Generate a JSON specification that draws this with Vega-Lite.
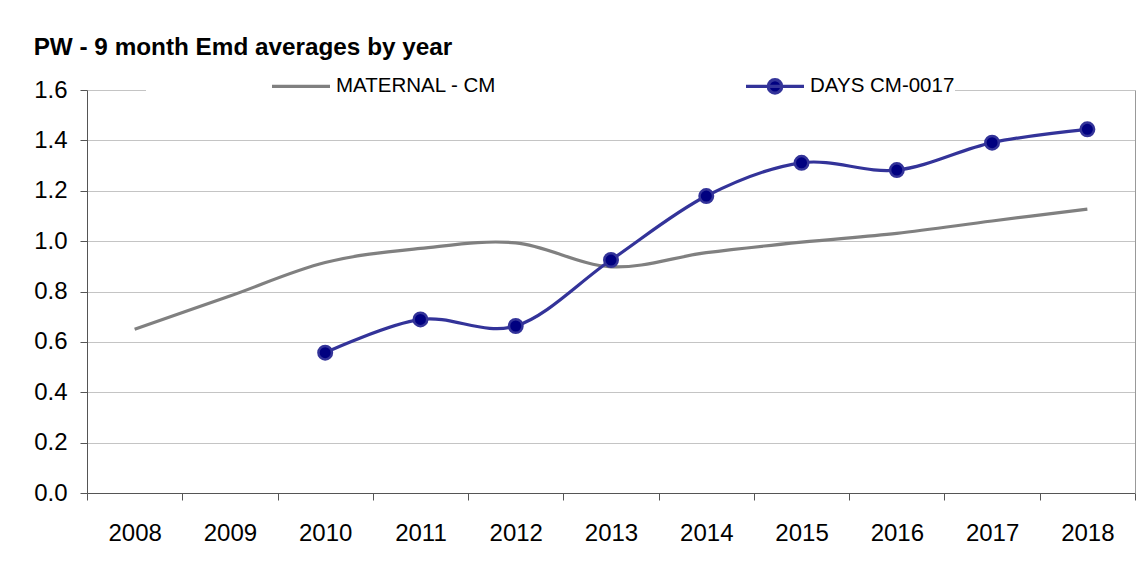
{
  "$schema": "https://vega.github.io/schema/vega-lite/v6.json",
  "width": 1048,
  "height": 403,
  "autosize": {"type": "none"},
  "padding": {"left": 87, "top": 90, "right": 4, "bottom": 92},
  "background": "white",
  "title": {
    "text": "PW - 9 month Emd averages by year",
    "anchor": "start",
    "fontSize": 24.3,
    "fontWeight": "bold",
    "color": "#000000",
    "font": "Liberation Sans",
    "dy": 9
  },
  "data": {
    "values": [
      {"year": "2008", "series": "MATERNAL - CM", "value": 0.65},
      {"year": "2009", "series": "MATERNAL - CM", "value": 0.782},
      {"year": "2010", "series": "MATERNAL - CM", "value": 0.915},
      {"year": "2011", "series": "MATERNAL - CM", "value": 0.971},
      {"year": "2012", "series": "MATERNAL - CM", "value": 0.993},
      {"year": "2013", "series": "MATERNAL - CM", "value": 0.898},
      {"year": "2014", "series": "MATERNAL - CM", "value": 0.954},
      {"year": "2015", "series": "MATERNAL - CM", "value": 0.996},
      {"year": "2016", "series": "MATERNAL - CM", "value": 1.031},
      {"year": "2017", "series": "MATERNAL - CM", "value": 1.08},
      {"year": "2018", "series": "MATERNAL - CM", "value": 1.127},
      {"year": "2010", "series": "DAYS CM-0017", "value": 0.557},
      {"year": "2011", "series": "DAYS CM-0017", "value": 0.689},
      {"year": "2012", "series": "DAYS CM-0017", "value": 0.663},
      {"year": "2013", "series": "DAYS CM-0017", "value": 0.925},
      {"year": "2014", "series": "DAYS CM-0017", "value": 1.179},
      {"year": "2015", "series": "DAYS CM-0017", "value": 1.311},
      {"year": "2016", "series": "DAYS CM-0017", "value": 1.282},
      {"year": "2017", "series": "DAYS CM-0017", "value": 1.391},
      {"year": "2018", "series": "DAYS CM-0017", "value": 1.444}
    ]
  },
  "layer": [
    {
      "mark": {"type": "line", "interpolate": "cardinal", "strokeWidth": 3.2},
      "encoding": {
        "x": {
          "field": "year",
          "type": "ordinal",
          "bandPosition": 0.5,
          "scale": {"type": "band", "paddingInner": 0, "paddingOuter": 0},
          "axis": {
            "title": null,
            "tickBand": "extent",
            "tickSize": 7,
            "tickColor": "#555555",
            "domainColor": "#555555",
            "labelAngle": 0,
            "labelFontSize": 24,
            "labelColor": "#000000",
            "labelPadding": 21,
            "grid": false
          }
        },
        "y": {
          "field": "value",
          "type": "quantitative",
          "scale": {"domain": [0, 1.6], "nice": false, "zero": true},
          "axis": {
            "title": null,
            "values": [0, 0.2, 0.4, 0.6, 0.8, 1.0, 1.2, 1.4, 1.6],
            "format": ".1f",
            "grid": true,
            "gridColor": "#c4c4c4",
            "gridWidth": 1,
            "tickSize": 7,
            "tickColor": "#555555",
            "domainColor": "#555555",
            "labelFontSize": 24,
            "labelColor": "#000000",
            "labelPadding": 13
          }
        },
        "color": {
          "field": "series",
          "type": "nominal",
          "scale": {"domain": ["MATERNAL - CM", "DAYS CM-0017"], "range": ["#808080", "#333399"]},
          "legend": {
            "title": null,
            "orient": "none",
            "legendX": 59,
            "legendY": -35,
            "direction": "horizontal",
            "fillColor": "white",
            "padding": 0,
            "symbolType": "stroke",
            "symbolSize": 3364,
            "symbolStrokeWidth": 3.2,
            "symbolOffset": 124,
            "labelOffset": 4,
            "labelFontSize": 20.5,
            "labelColor": "#000000",
            "labelLimit": 400,
            "columnPadding": 123,
            "encode": {
              "symbols": {
                "update": {
                  "shape": {"signal": "datum.value === 'DAYS CM-0017' ? 'M-1,0L1,0M-0.233,0A0.233,0.233 0 1,0 0.233,0A0.233,0.233 0 1,0 -0.233,0' : 'M-1,0L1,0M0,-0.233L0,-0.233M0,0.233L0,0.233'"},
                  "fill": {"signal": "datum.value === 'DAYS CM-0017' ? '#000080' : 'transparent'"},
                  "strokeCap": {"value": "butt"}
                }
              }
            }
          }
        }
      }
    },
    {
      "transform": [{"filter": "datum.series === 'DAYS CM-0017'"}],
      "mark": {"type": "point", "shape": "circle", "filled": true, "fill": "#000080", "stroke": "#333399", "strokeWidth": 2.5, "size": 182, "opacity": 1},
      "encoding": {
        "x": {"field": "year", "type": "ordinal", "bandPosition": 0.5},
        "y": {
          "field": "value",
          "type": "quantitative",
          "axis": {"orient": "right", "title": null, "labels": false, "ticks": false, "grid": false, "domain": true, "domainColor": "#999999"}
        }
      }
    }
  ],
  "resolve": {"axis": {"y": "independent"}},
  "config": {
    "font": "Liberation Sans",
    "view": {"stroke": null}
  }
}
